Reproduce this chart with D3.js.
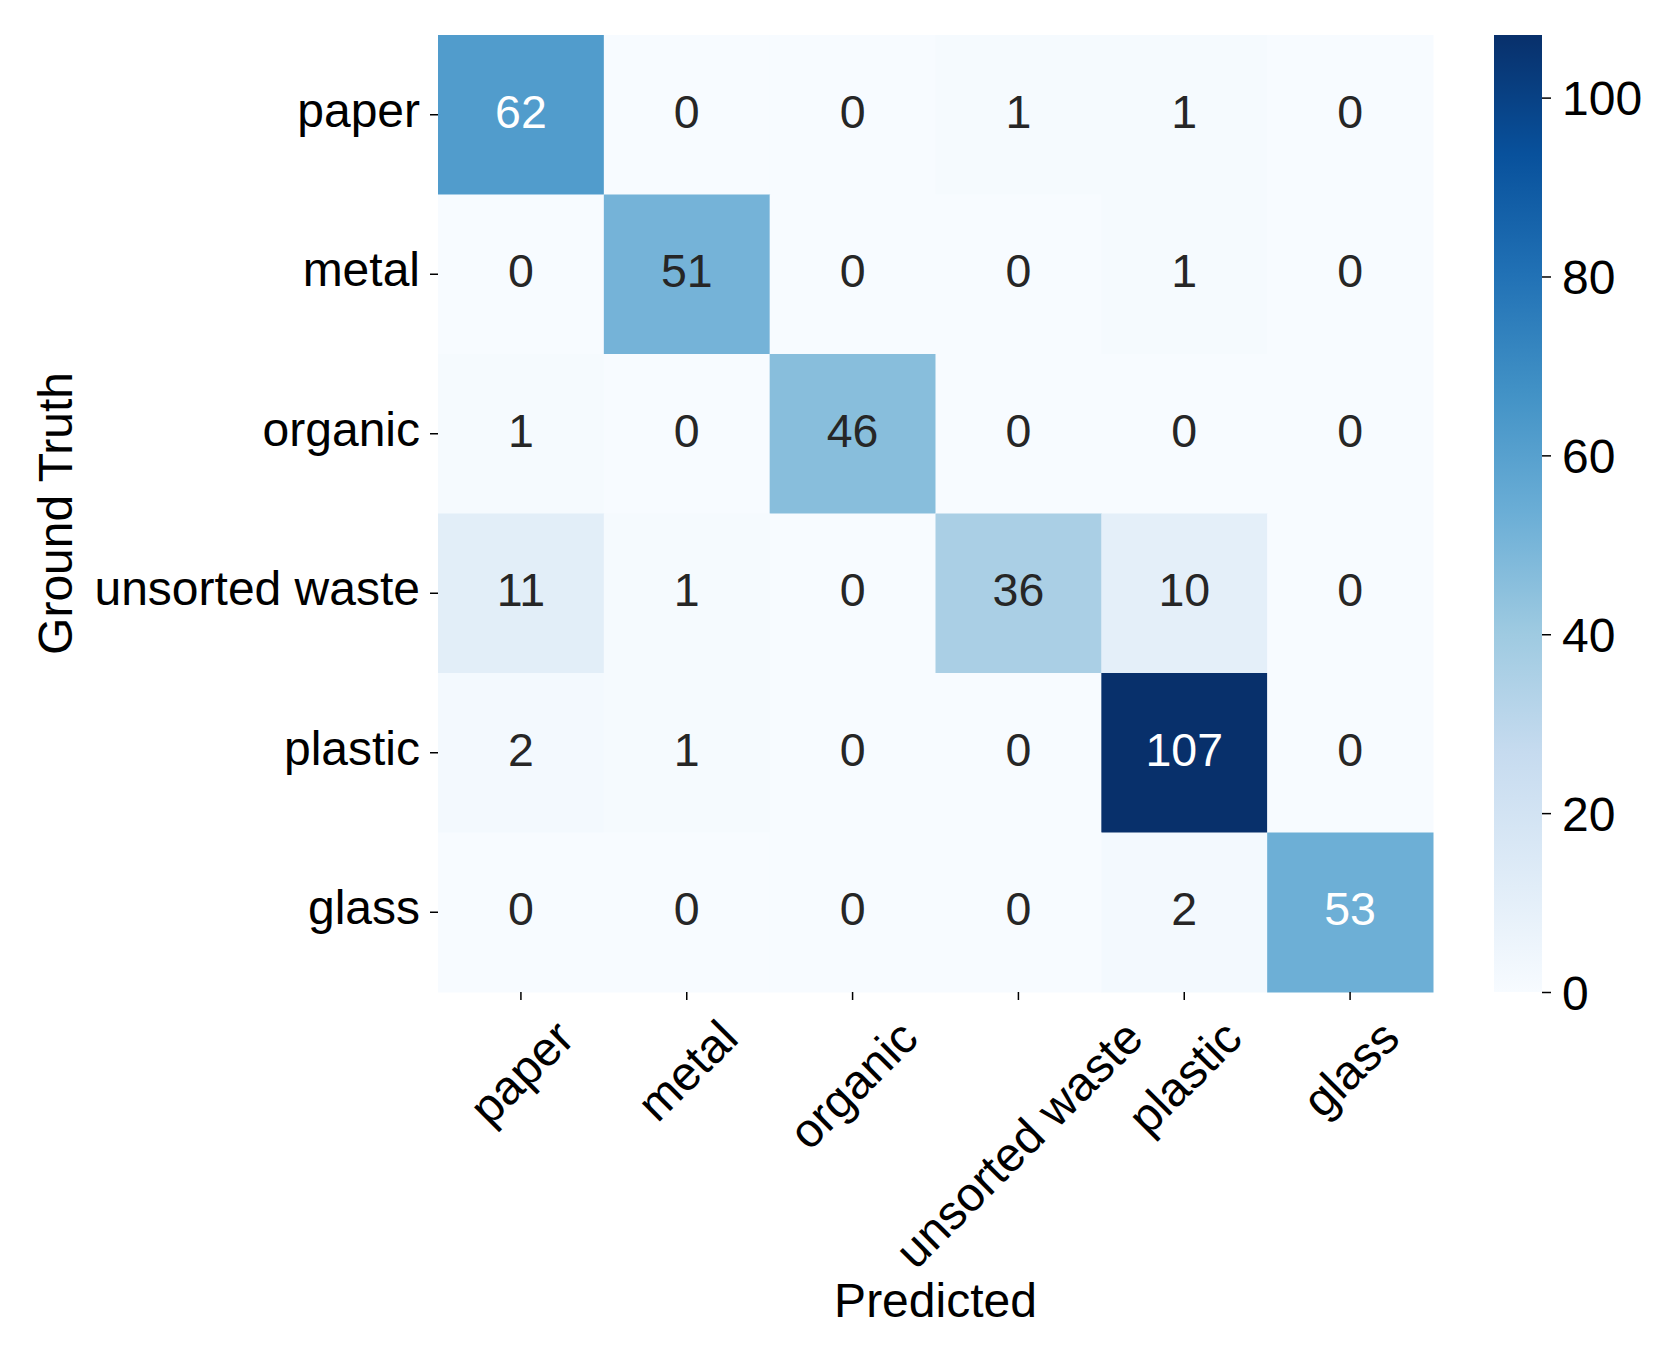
<!DOCTYPE html>
<meta charset="utf-8">
<script src="https://d3js.org/d3.v7.min.js"></script>
<style>
  body { margin: 0; background: #fff; }
  text { font-family: "Liberation Sans", Arial, sans-serif; }
</style>
<div id="my_dataviz"></div>
<script>
  // class names (rows = ground truth, cols = predicted)
  var classes = ["paper", "metal", "organic", "unsorted waste", "plastic", "glass"];

  // confusion matrix values, one row per ground truth class
  var rowPaper    = [62, 0, 0, 1, 1, 0];
  var rowMetal    = [0, 51, 0, 0, 1, 0];
  var rowOrganic  = [1, 0, 46, 0, 0, 0];
  var rowUnsorted = [11, 1, 0, 36, 10, 0];
  var rowPlastic  = [2, 1, 0, 0, 107, 0];
  var rowGlass    = [0, 0, 0, 0, 2, 53];
  var matrix = [rowPaper, rowMetal, rowOrganic, rowUnsorted, rowPlastic, rowGlass];

  var colorbarTicks = [0, 20, 40, 60, 80, 100];

  // matplotlib "Blues"
  var blues = ["#f7fbff", "#deebf7", "#c6dbef", "#9ecae1", "#6baed6",
               "#4292c6", "#2171b5", "#08519c", "#08306b"];

  var W = 1666, H = 1348;
  var hm = {left: 438, top: 35, right: 1433, bottom: 992};
  var labelSize = 48, annotSize = 46.5;

  var svg = d3.select("#my_dataviz").append("svg")
      .attr("width", W).attr("height", H);

  var vmax = d3.max(matrix, function(r) { return d3.max(r); });
  var color = d3.scaleLinear()
      .domain(blues.map(function(d, i) { return vmax * i / (blues.length - 1); }))
      .range(blues)
      .interpolate(d3.interpolateRgb);

  var x = d3.scaleBand().domain(classes).range([hm.left, hm.right]);
  var y = d3.scaleBand().domain(classes).range([hm.top, hm.bottom]);

  var cells = [];
  matrix.forEach(function(row, i) {
    row.forEach(function(v, j) {
      cells.push({r: classes[i], c: classes[j], v: v});
    });
  });

  // luminance rule like seaborn for annotation colour
  function lum(c) {
    var rgb = d3.rgb(c);
    var f = function(u) { u /= 255; return u <= 0.03928 ? u / 12.92 : Math.pow((u + 0.055) / 1.055, 2.4); };
    return 0.2126 * f(rgb.r) + 0.7152 * f(rgb.g) + 0.0722 * f(rgb.b);
  }

  svg.selectAll("rect.cell").data(cells).enter().append("rect")
      .attr("class", "cell")
      .attr("x", function(d) { return x(d.c); })
      .attr("y", function(d) { return y(d.r); })
      .attr("width", x.bandwidth() + 0.5)
      .attr("height", y.bandwidth() + 0.5)
      .attr("fill", function(d) { return color(d.v); });

  svg.selectAll("text.annot").data(cells).enter().append("text")
      .attr("class", "annot")
      .attr("x", function(d) { return x(d.c) + x.bandwidth() / 2; })
      .attr("y", function(d) { return y(d.r) + y.bandwidth() / 2; })
      .attr("dy", "0.28em")
      .attr("text-anchor", "middle")
      .style("font-size", annotSize + "px")
      .attr("fill", function(d) { return lum(color(d.v)) > 0.408 ? "#262626" : "#ffffff"; })
      .text(function(d) { return d.v; });

  // Y axis
  var yAxis = svg.append("g")
      .attr("transform", "translate(" + hm.left + ",0)")
      .call(d3.axisLeft(y).tickSize(8).tickPadding(10));
  yAxis.select(".domain").remove();
  yAxis.selectAll("line").attr("stroke", "#000").attr("stroke-width", 1.5);
  yAxis.selectAll("text").style("font-size", labelSize + "px").attr("fill", "#000")
      .attr("dy", "0.25em")
      .attr("font-family", "Liberation Sans, Arial, sans-serif");

  // X axis with rotated labels (bbox centred under tick)
  var xAxis = svg.append("g")
      .attr("transform", "translate(0," + hm.bottom + ")")
      .call(d3.axisBottom(x).tickSize(8).tickFormat(""));
  xAxis.select(".domain").remove();
  xAxis.selectAll("line").attr("stroke", "#000").attr("stroke-width", 1.5);

  var s2 = Math.SQRT2;
  classes.forEach(function(c) {
    var t = svg.append("text")
        .attr("text-anchor", "middle")
        .style("font-size", labelSize + "px")
        .attr("fill", "#000")
        .text(c);
    var w = t.node().getComputedTextLength();
    var h = labelSize * 1.15;
    var cx = x(c) + x.bandwidth() / 2;
    var cy = hm.bottom + 17 + (w + h) / (2 * s2);
    t.attr("x", cx).attr("y", cy).attr("dy", "0.36em")
     .attr("transform", "rotate(-45," + cx + "," + cy + ")");
  });

  // axis titles
  svg.append("text")
      .attr("x", (hm.left + hm.right) / 2).attr("y", 1317)
      .attr("text-anchor", "middle")
      .style("font-size", labelSize + "px")
      .text("Predicted");
  svg.append("text")
      .attr("transform", "translate(72," + (hm.top + hm.bottom) / 2 + ") rotate(-90)")
      .attr("text-anchor", "middle")
      .style("font-size", labelSize + "px")
      .text("Ground Truth");

  // colour bar
  var cb = {x: 1494, w: 48};
  var defs = svg.append("defs");
  var grad = defs.append("linearGradient").attr("id", "cbgrad")
      .attr("x1", 0).attr("y1", 1).attr("x2", 0).attr("y2", 0);
  blues.forEach(function(b, i) {
    grad.append("stop").attr("offset", i / (blues.length - 1)).attr("stop-color", b);
  });
  var cScale = d3.scaleLinear().domain([0, vmax]).range([hm.bottom, hm.top]);
  svg.append("rect")
      .attr("x", cb.x).attr("y", hm.top)
      .attr("width", cb.w).attr("height", hm.bottom - hm.top)
      .attr("fill", "url(#cbgrad)");
  var cAxis = svg.append("g")
      .attr("transform", "translate(" + (cb.x + cb.w) + ",0)")
      .call(d3.axisRight(cScale).tickValues(colorbarTicks).tickSize(9).tickPadding(11));
  cAxis.select(".domain").remove();
  cAxis.selectAll("line").attr("stroke", "#000").attr("stroke-width", 1.5);
  cAxis.selectAll("text").style("font-size", labelSize + "px").attr("fill", "#000")
      .attr("dy", "0.36em")
      .attr("font-family", "Liberation Sans, Arial, sans-serif");
</script>
